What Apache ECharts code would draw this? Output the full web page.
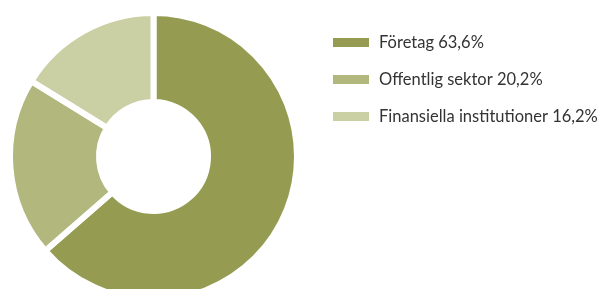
<!DOCTYPE html>
<html>
<head>
<meta charset="utf-8">
<script src="https://cdn.jsdelivr.net/npm/echarts@6/dist/echarts.min.js"></script>
<style>html,body{margin:0;padding:0;background:#fff;}#c{width:597px;height:289px;}</style>
</head>
<body>
<div id="c"></div>
<script>
const categories = ['Företag', 'Offentlig sektor', 'Finansiella institutioner'];
const values = [63.6, 20.2, 16.2];
const colors = ['#959c51', '#b2b77e', '#cbcfa4'];

const chart = echarts.init(document.getElementById('c'), null, {renderer: 'canvas'});
const data = categories.map((n, i) => ({name: n, value: values[i], itemStyle: {color: colors[i]}}));
chart.setOption({
  animation: false,
  legend: {
    orient: 'vertical',
    left: 326,
    top: 29,
    padding: 5,
    icon: 'rect',
    itemWidth: 38,
    itemHeight: 11,
    itemGap: 20,
    selectedMode: false,
    textStyle: {fontFamily: 'Lato', fontSize: 16.5, color: '#333', padding: [0, 0, 0, 4]},
    formatter: function (name) {
      const i = categories.indexOf(name);
      return name + ' ' + values[i].toFixed(1).replace('.', ',') + '%';
    }
  },
  series: [{
    type: 'pie',
    center: [153.5, 156.5],
    radius: [54.5, 143.5],
    startAngle: 90,
    clockwise: true,
    label: {show: false},
    labelLine: {show: false},
    emphasis: {disabled: true},
    itemStyle: {borderColor: '#fff', borderWidth: 6},
    data: data
  }]
});
</script>
</body>
</html>
